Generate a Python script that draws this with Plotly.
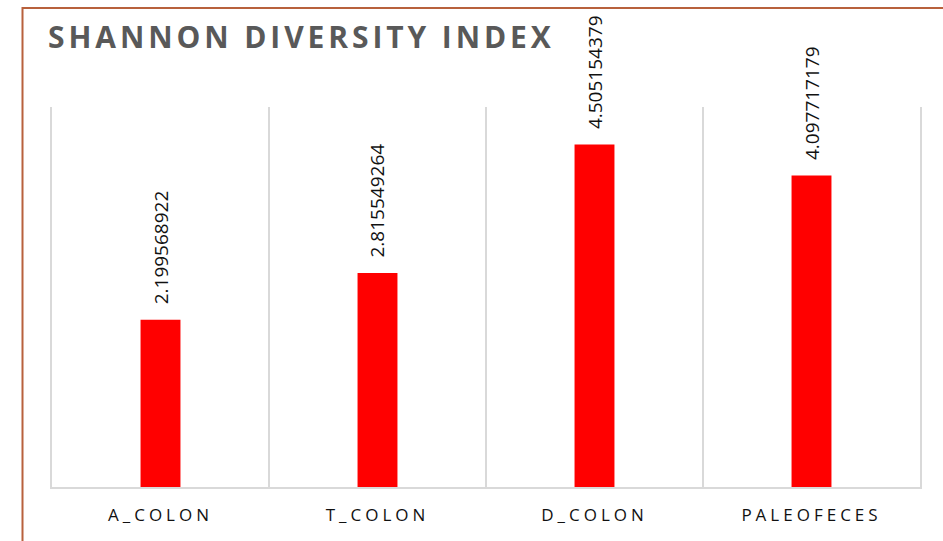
import plotly.graph_objects as go

# Shannon diversity per sample
samples = ["A_COLON", "T_COLON", "D_COLON", "PALEOFECES"]
shannon = [2.199568922, 2.815549264, 4.505154379, 4.097717179]
value_labels = ["2.199568922", "2.815549264", "4.505154379", "4.097717179"]

W, H = 943, 541
ML, MR, MT, MB = 52, 23, 107, 54

fig = go.Figure(
    go.Bar(
        x=samples,
        y=shannon,
        marker=dict(color="#FF0000", line=dict(width=0)),
        hoverinfo="x+y",
    )
)

# rotated value labels sitting above each bar
for s, v, lab in zip(samples, shannon, value_labels):
    fig.add_annotation(
        x=s, y=v, text=lab, textangle=-90,
        xref="x", yref="y", xanchor="center", yanchor="bottom",
        yshift=13, showarrow=False,
        font=dict(family="Open Sans", size=19, color="#111111"),
    )

pw = W - ML - MR
ph = H - MT - MB
# outer chart frame
fig.add_shape(
    type="rect", xref="paper", yref="paper",
    x0=(22.5 - ML) / pw, x1=(W + 10 - ML) / pw,
    y0=-(H + 10 - (H - MB)) / ph, y1=((H - MB) - 8) / ph,
    line=dict(color="#B8613C", width=2), fillcolor="rgba(0,0,0,0)",
    layer="below",
)

fig.update_layout(
    width=W, height=H,
    margin=dict(l=ML, r=MR, t=MT, b=MB),
    paper_bgcolor="white", plot_bgcolor="white",
    bargap=0.816,
    showlegend=False,
    title=dict(
        text="<b>SHANNON DIVERSITY INDEX</b>",
        x=48 / W, xref="container", xanchor="left",
        y=1 - 37 / H, yref="container", yanchor="middle",
        font=dict(family="Open Sans", size=30, color="#595959"),
    ),
    xaxis=dict(
        type="category",
        tickson="boundaries",
        showgrid=True, gridcolor="#D9D9D9", gridwidth=1.5,
        showline=True, linecolor="#D9D9D9", linewidth=1.5,
        ticks="", ticklen=0,
        ticklabelstandoff=12,
        tickfont=dict(family="Open Sans", size=17, color="#111111"),
        zeroline=False,
    ),
    yaxis=dict(
        range=[0, 5],
        showgrid=False, showticklabels=False, zeroline=False,
        showline=True, mirror=True, linecolor="#D9D9D9", linewidth=1.5,
        ticks="",
    ),
)

letter_spacing_js = """
var gd = document.getElementById('{plot_id}');
gd.querySelectorAll('.xtick text').forEach(function(t){ t.style.letterSpacing = '4px'; });
var ttl = gd.querySelector('.gtitle');
if (ttl) { ttl.style.letterSpacing = '3.9px'; }
"""

fig.write_html("out.html", post_script=letter_spacing_js)
